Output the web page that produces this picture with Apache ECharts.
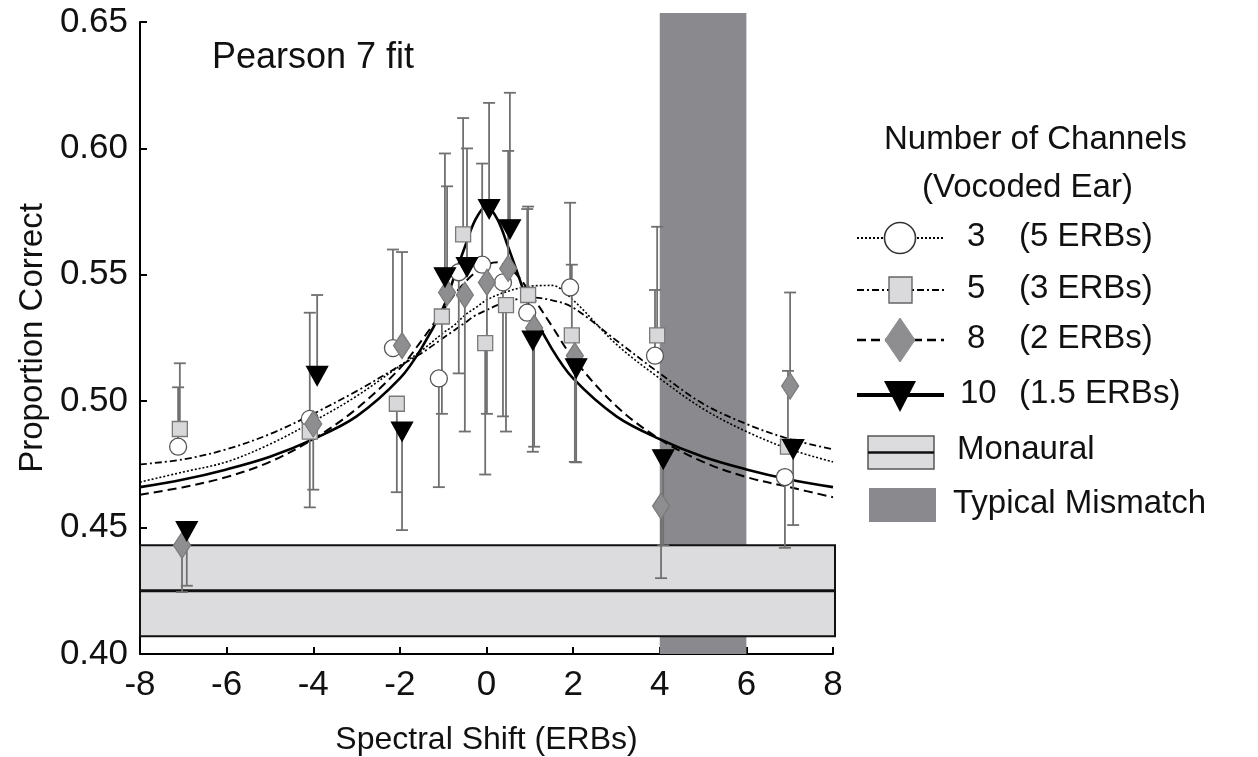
<!DOCTYPE html>
<html>
<head>
<meta charset="utf-8">
<script src="https://cdn.jsdelivr.net/npm/echarts@6/dist/echarts.min.js"></script>
<style>
  html, body { margin: 0; padding: 0; background: #fff; }
  #chart { width: 1258px; height: 757px; }
</style>
</head>
<body>
<div id="chart"></div>
<script>
// ---- Measured proportion correct per spectral shift (markers staggered slightly in x) ----
// 3 channels (5 ERBs)
const ch3X   = [-7.12, -4.08, -2.16, -1.10, -0.64, -0.10, 0.38, 0.94, 1.93, 3.89, 6.89];
const ch3Y   = [0.482, 0.493, 0.521, 0.509, 0.551, 0.554, 0.547, 0.535, 0.545, 0.518, 0.470];
const ch3Err = [0.5055, 0.535, 0.560, 0.466, 0.511, 0.594, 0.494, 0.576, 0.5785, 0.544, 0.442];
// 5 channels (3 ERBs)
const ch5X   = [-7.08, -4.08, -2.07, -1.03, -0.54, -0.03, 0.45, 0.96, 1.97, 3.94, 6.96];
const ch5Y   = [0.489, 0.488, 0.499, 0.5335, 0.566, 0.523, 0.538, 0.542, 0.526, 0.526, 0.482];
const ch5Err = [0.515, 0.458, 0.464, 0.495, 0.612, 0.471, 0.488, 0.577, 0.554, 0.569, 0.512];
// 8 channels (2 ERBs)
const ch8X   = [-7.03, -4.00, -1.95, -0.91, -0.50, 0.01, 0.50, 1.10, 2.04, 4.03, 7.01];
const ch8Y   = [0.443, 0.491, 0.522, 0.543, 0.542, 0.547, 0.5525, 0.529, 0.518, 0.4585, 0.506];
const ch8Err = [0.4245, 0.465, 0.559, 0.585, 0.488, 0.495, 0.599, 0.482, 0.476, 0.430, 0.543];
// 10 channels (1.5 ERBs)
const ch10X   = [-6.92, -3.91, -1.95, -0.96, -0.45, 0.06, 0.54, 1.07, 2.07, 4.08, 7.08];
const ch10Y   = [0.4486, 0.510, 0.488, 0.549, 0.553, 0.576, 0.568, 0.524, 0.513, 0.477, 0.481];
const ch10Err = [0.427, 0.542, 0.449, 0.598, 0.600, 0.618, 0.622, 0.480, 0.4758, 0.443, 0.451];

// ---- Pearson VII fit curves, sampled at these shifts ----
const fitX  = [-8, -7, -6, -5, -4, -3, -2, -1.5, -1, -0.75, -0.5, -0.25, 0, 0.25, 0.5, 0.75, 1, 1.5, 2, 3, 4, 5, 6, 7, 8];
const fit3  = [0.468, 0.472, 0.476, 0.483, 0.492, 0.502, 0.514, 0.520, 0.527, 0.530, 0.534, 0.537, 0.540, 0.542, 0.5435, 0.5447, 0.5455, 0.5458, 0.540, 0.5225, 0.509, 0.497, 0.488, 0.481, 0.476];
const fit5  = [0.475, 0.477, 0.481, 0.487, 0.495, 0.504, 0.514, 0.519, 0.525, 0.528, 0.531, 0.534, 0.536, 0.538, 0.5395, 0.5405, 0.541, 0.540, 0.537, 0.524, 0.511, 0.499, 0.491, 0.485, 0.481];
const fit8  = [0.463, 0.466, 0.470, 0.476, 0.485, 0.497, 0.513, 0.524, 0.536, 0.542, 0.547, 0.551, 0.554, 0.555, 0.553, 0.549, 0.543, 0.530, 0.517, 0.498, 0.485, 0.476, 0.470, 0.466, 0.462];
const fit10 = [0.466, 0.469, 0.473, 0.478, 0.485, 0.494, 0.509, 0.521, 0.537, 0.549, 0.561, 0.572, 0.577, 0.572, 0.561, 0.549, 0.537, 0.521, 0.509, 0.494, 0.485, 0.478, 0.473, 0.469, 0.466];

// ---- Reference regions ----
const monauralMean = 0.425;
const monauralLow  = 0.407;
const monauralHigh = 0.443;
const mismatchFrom = 4;
const mismatchTo   = 6;
const mismatchTop  = 0.6536;

// ---- Legend text ----
const channelCounts = ['3', '5', '8', '10'];
const channelWidths = ['(5 ERBs)', '(3 ERBs)', '(2 ERBs)', '(1.5 ERBs)'];
const legendTitle = ['Number of Channels', '(Vocoded Ear)'];

const FONT = '"Liberation Sans", Arial, Helvetica, sans-serif';
const chart = echarts.init(document.getElementById('chart'));

const zip = (xs, ys) => xs.map((x, i) => [x, ys[i]]);

function errorBars(xs, ys, ends) {
  return {
    type: 'custom',
    z: 4,
    silent: true,
    data: xs.map((x, i) => [x, ys[i], ends[i]]),
    renderItem(params, api) {
      const p0 = api.coord([api.value(0), api.value(1)]);
      const p1 = api.coord([api.value(0), api.value(2)]);
      const st = { stroke: '#707070', lineWidth: 1.8 };
      return {
        type: 'group',
        children: [
          { type: 'line', shape: { x1: p0[0], y1: p0[1], x2: p1[0], y2: p1[1] }, style: st },
          { type: 'line', shape: { x1: p1[0] - 6, y1: p1[1], x2: p1[0] + 6, y2: p1[1] }, style: st }
        ]
      };
    }
  };
}

function fitLine(ys, width, dash) {
  return {
    type: 'line',
    z: 3,
    silent: true,
    smooth: 0.35,
    symbol: 'none',
    data: zip(fitX, ys),
    lineStyle: { color: '#000', width: width, type: dash }
  };
}

function markers(xs, ys, symbol, size, fill, border, rotate) {
  return {
    type: 'scatter',
    z: 6,
    silent: true,
    symbol: symbol,
    symbolSize: size,
    symbolRotate: rotate || 0,
    data: zip(xs, ys),
    itemStyle: { color: fill, borderColor: border, borderWidth: 1.3, opacity: 1 }
  };
}

// ---- Legend drawn as graphics ----
const legendRows = [238, 290, 340, 395];
const legendGraphics = [];
legendGraphics.push(
  { type: 'text', left: 884, top: 123, style: { text: legendTitle[0], font: '33px ' + FONT, fill: '#111' } },
  { type: 'text', left: 922, top: 171, style: { text: legendTitle[1], font: '33px ' + FONT, fill: '#111' } }
);
const legendDash = [[2, 2], [7, 3, 2, 3], [9, 5], null];
const legendWidth = [2, 2.2, 2.6, 4];
legendRows.forEach((y, i) => {
  legendGraphics.push({
    type: 'line', shape: { x1: 857, y1: y, x2: 944, y2: y },
    style: { stroke: '#000', lineWidth: legendWidth[i], lineDash: legendDash[i] }
  });
  const t = { type: 'text', left: 0, top: y - 18, style: { font: '33px ' + FONT, fill: '#111' } };
  legendGraphics.push(Object.assign({}, t, { left: i === 3 ? 960 : 967, style: Object.assign({}, t.style, { text: channelCounts[i] }) }));
  legendGraphics.push(Object.assign({}, t, { left: 1019, style: Object.assign({}, t.style, { text: channelWidths[i] }) }));
});
legendGraphics.push(
  { type: 'circle', shape: { cx: 900, cy: legendRows[0], r: 15.5 }, style: { fill: '#fff', stroke: '#333', lineWidth: 1.6 } },
  { type: 'rect', shape: { x: 889, y: legendRows[1] - 13, width: 23, height: 26 }, style: { fill: '#dadadc', stroke: '#666', lineWidth: 1.4 } },
  { type: 'polygon', shape: { points: [[900, legendRows[2] - 22], [915, legendRows[2]], [900, legendRows[2] + 22], [885, legendRows[2]]] }, style: { fill: '#8e8e90', stroke: '#8e8e90' } },
  { type: 'polygon', shape: { points: [[884, legendRows[3] - 14], [916, legendRows[3] - 14], [900, legendRows[3] + 17]] }, style: { fill: '#000' } },
  // Monaural swatch
  { type: 'rect', shape: { x: 868, y: 436, width: 66, height: 33 }, style: { fill: '#dcdcde', stroke: '#555', lineWidth: 1.5 } },
  { type: 'line', shape: { x1: 868, y1: 452.5, x2: 934, y2: 452.5 }, style: { stroke: '#111', lineWidth: 2.5 } },
  { type: 'text', left: 957, top: 433, style: { text: 'Monaural', font: '33px ' + FONT, fill: '#111' } },
  // Mismatch swatch
  { type: 'rect', shape: { x: 869, y: 488, width: 67, height: 34 }, style: { fill: '#8a8a8e' } },
  { type: 'text', left: 953, top: 487, style: { text: 'Typical Mismatch', font: '33px ' + FONT, fill: '#111' } },
  // Panel caption
  { type: 'text', left: 212, top: 40, style: { text: 'Pearson 7 fit', font: '36px ' + FONT, fill: '#111' } }
);

const option = {
  animation: false,
  backgroundColor: '#fff',
  grid: { left: 140, top: 22, width: 693, height: 632, containLabel: false, outerBoundsMode: 'none' },
  xAxis: {
    type: 'value', min: -8, max: 8, interval: 2,
    name: 'Spectral Shift (ERBs)', nameLocation: 'middle', nameGap: 70,
    nameTextStyle: { fontFamily: FONT, fontSize: 32, color: '#111' },
    axisLine: { show: true, onZero: false, lineStyle: { color: '#000', width: 2 } },
    axisTick: { show: true, inside: true, length: 7, lineStyle: { color: '#000', width: 2 } },
    axisLabel: { fontFamily: FONT, fontSize: 35, color: '#111', margin: 14 },
    splitLine: { show: false }
  },
  yAxis: {
    type: 'value', min: 0.40, max: 0.65, interval: 0.05,
    name: 'Proportion Correct', nameLocation: 'middle', nameGap: 89, nameRotate: 90,
    nameTextStyle: { fontFamily: FONT, fontSize: 33, color: '#111' },
    axisLine: { show: true, onZero: false, lineStyle: { color: '#000', width: 2 } },
    axisTick: { show: true, inside: true, length: 7, lineStyle: { color: '#000', width: 2 } },
    axisLabel: { fontFamily: FONT, fontSize: 35, color: '#111', margin: 12, formatter: v => v.toFixed(2) },
    splitLine: { show: false }
  },
  graphic: legendGraphics,
  series: [
    // Typical mismatch band
    {
      type: 'custom', z: 1, silent: true, clip: false,
      data: [[mismatchFrom, mismatchTo, 0.40, mismatchTop]],
      renderItem(params, api) {
        const a = api.coord([api.value(0), api.value(3)]);
        const b = api.coord([api.value(1), api.value(2)]);
        return { type: 'rect', shape: { x: a[0], y: a[1], width: b[0] - a[0], height: b[1] - a[1] }, style: { fill: '#8a8a8e' } };
      }
    },
    // Monaural range and mean
    {
      type: 'custom', z: 2, silent: true, clip: false,
      data: [[-8, 8, monauralLow, monauralHigh, monauralMean]],
      renderItem(params, api) {
        const a = api.coord([api.value(0), api.value(3)]);
        const b = api.coord([api.value(1), api.value(2)]);
        const m = api.coord([api.value(0), api.value(4)]);
        return {
          type: 'group',
          children: [
            { type: 'rect', shape: { x: a[0], y: a[1], width: b[0] - a[0] + 2, height: b[1] - a[1] }, style: { fill: '#dcdcde', stroke: '#111', lineWidth: 2 } },
            { type: 'line', shape: { x1: a[0], y1: m[1], x2: b[0] + 2, y2: m[1] }, style: { stroke: '#111', lineWidth: 3 } }
          ]
        };
      }
    },
    errorBars(ch3X, ch3Y, ch3Err),
    errorBars(ch5X, ch5Y, ch5Err),
    errorBars(ch8X, ch8Y, ch8Err),
    errorBars(ch10X, ch10Y, ch10Err),
    fitLine(fit3, 1.6, [2, 2]),
    fitLine(fit5, 1.8, [7, 3, 2, 3]),
    fitLine(fit8, 2.0, [9, 5]),
    fitLine(fit10, 2.6, 'solid'),
    markers(ch3X, ch3Y, 'circle', 17, '#ffffff', '#555555'),
    markers(ch5X, ch5Y, 'rect', 15, '#d8d8da', '#7a7a7a'),
    markers(ch8X, ch8Y, 'diamond', [17, 26], '#8e8e90', '#7a7a7a'),
    markers(ch10X, ch10Y, 'triangle', [21, 19], '#000000', '#000000', 180)
  ]
};

chart.setOption(option);
</script>
</body>
</html>
